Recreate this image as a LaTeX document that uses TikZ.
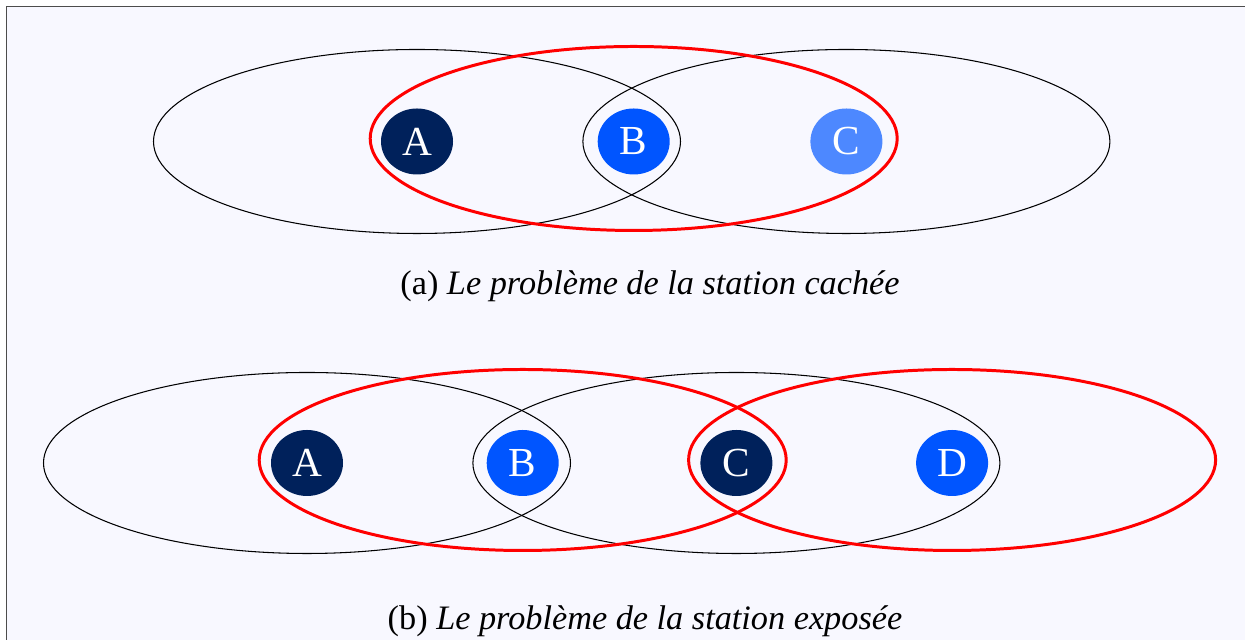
\documentclass[tikz,border=0pt]{standalone}
\usepackage{fontspec}
\setmainfont{Liberation Serif}
\usetikzlibrary{positioning,shapes.geometric}

\definecolor{pagebg}{RGB}{248,248,255}
\definecolor{navy}{RGB}{0,33,91}
\definecolor{bluest}{RGB}{0,85,255}
\definecolor{lightblue}{RGB}{77,136,255}

\begin{document}
\begin{tikzpicture}[
  station/.style={
    ellipse,
    inner sep=0pt,
    minimum width=1.44cm,
    minimum height=1.32cm,
    text=white,
    font=\fontsize{23.5}{23.5}\selectfont
  },
  reach/.style={draw=black, line width=.6pt},
  sendreach/.style={draw=red, line width=1.7pt},
  caption/.style={font=\fontsize{19.5}{19.5}\selectfont}
]
\useasboundingbox (0,0) rectangle (24.9,12.8);
\fill[pagebg] (0.13,0) rectangle (24.9,12.67);
\draw[black!70, line width=1pt] (0.13,0) -- (0.13,12.67) -- (24.9,12.67);

% (a) hidden station
\node[station, fill=navy] (a1) at (8.34,9.97) {A};
\node[station, fill=bluest, right=2.88cm of a1] (b1) {B};
\node[station, fill=lightblue, right=2.80cm of b1] (c1) {C};

\draw[reach] (a1) ellipse [x radius=5.27cm, y radius=1.84cm];
\draw[reach] (c1) ellipse [x radius=5.27cm, y radius=1.84cm];
\draw[sendreach] ([yshift=.06cm]b1.center) ellipse [x radius=5.27cm, y radius=1.84cm];

\node[caption] (capa) at (13.0,7.08) {(a) \textit{Le problème de la station cachée}};

% (b) exposed station
\node[station, fill=navy] (a2) at (6.14,3.54) {A};
\node[station, fill=bluest, right=2.86cm of a2] (b2) {B};
\node[station, fill=navy, right=2.82cm of b2] (c2) {C};
\node[station, fill=bluest, right=2.86cm of c2] (d2) {D};

\draw[reach] (a2) ellipse [x radius=5.27cm, y radius=1.81cm];
\draw[reach] (c2) ellipse [x radius=5.27cm, y radius=1.81cm];
\draw[sendreach] ([yshift=.06cm]b2.center) ellipse [x radius=5.27cm, y radius=1.81cm];
\draw[sendreach] ([yshift=.06cm]d2.center) ellipse [x radius=5.27cm, y radius=1.81cm];

\node[caption] (capb) at (12.9,0.38) {(b) \textit{Le problème de la station exposée}};
\end{tikzpicture}
\end{document}
